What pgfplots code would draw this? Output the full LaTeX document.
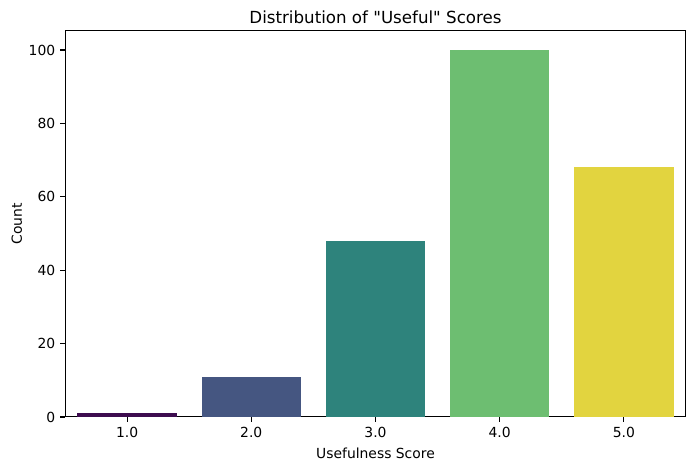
\documentclass[border=0pt]{standalone}
\usepackage{fontspec}
\setmainfont{DejaVu Sans}
\usepackage{pgfplots}
\pgfplotsset{compat=1.18}
\definecolor{c1}{HTML}{3D0C4F}
\definecolor{c2}{HTML}{455681}
\definecolor{c3}{HTML}{2E837C}
\definecolor{c4}{HTML}{6DBE71}
\definecolor{c5}{HTML}{E2D43F}
\newcommand{\qd}{\XeTeXglyph\XeTeXglyphindex "quotedbl"\relax}
\begin{document}
\begin{tikzpicture}
\begin{axis}[
  scale only axis,
  width=447.1pt, height=277.9pt,
  xmin=-0.5, xmax=4.5, ymin=0, ymax=105.2,
  ybar, bar width=0.8, bar shift=0pt,
  xtick={0,1,2,3,4}, xticklabels={1.0,2.0,3.0,4.0,5.0},
  ytick={0,20,40,60,80,100},
  tick align=outside, tick pos=left,
  major tick length=3.5pt,
  every tick/.style={black, line width=0.8pt},
  axis line style={line width=0.7pt},
  /pgf/number format/assume math mode=true,
  tick label style={font=\fontsize{10}{12}\selectfont},
  label style={font=\fontsize{10}{12}\selectfont},
  title style={font=\fontsize{12}{14}\selectfont, yshift=-4.5pt},
  title={Distribution of \qd Useful\qd{} Scores},
  xlabel={Usefulness Score}, ylabel={Count},
  xlabel style={yshift=-0.5pt},
  ylabel style={yshift=-2pt},
]
\addplot[fill=c1, draw=none] coordinates {(0,1)};
\addplot[fill=c2, draw=none] coordinates {(1,11)};
\addplot[fill=c3, draw=none] coordinates {(2,48)};
\addplot[fill=c4, draw=none] coordinates {(3,100)};
\addplot[fill=c5, draw=none] coordinates {(4,68)};
\end{axis}
\pgfresetboundingbox
\path (current axis.south west) ++(-46.8pt,-38.2pt) coordinate (bl);
\path (current axis.north east) ++(6.5pt,22.3pt) coordinate (tr);
\path[use as bounding box] (bl) rectangle (tr);
\end{tikzpicture}
\end{document}
